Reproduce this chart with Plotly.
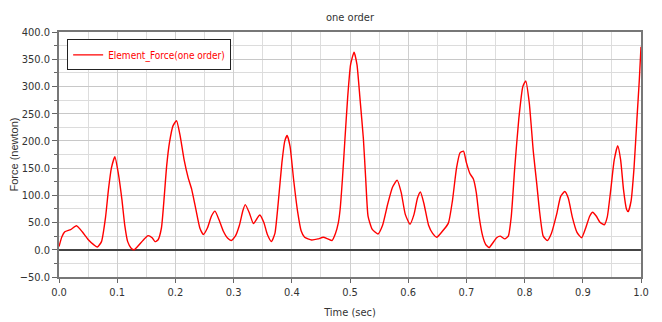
import plotly.graph_objects as go

time_s = [0.0, 0.005, 0.01, 0.02, 0.03, 0.04, 0.05, 0.06, 0.066, 0.073, 0.08, 0.085, 0.09, 0.096,
          0.102, 0.108, 0.113, 0.118, 0.124, 0.129, 0.135, 0.145, 0.153, 0.16, 0.165, 0.17, 0.176,
          0.181, 0.185, 0.19, 0.196, 0.202, 0.208, 0.215, 0.222, 0.228, 0.235, 0.242, 0.248, 0.255,
          0.262, 0.268, 0.275, 0.282, 0.29, 0.296, 0.303, 0.31, 0.316, 0.32, 0.327, 0.334, 0.34,
          0.345, 0.352, 0.358, 0.365, 0.371, 0.377, 0.383, 0.388, 0.392, 0.397, 0.403, 0.41, 0.416,
          0.422, 0.434, 0.445, 0.454, 0.462, 0.469, 0.475, 0.48, 0.483, 0.487, 0.491, 0.496, 0.501,
          0.507, 0.512, 0.517, 0.523, 0.527, 0.531, 0.538, 0.548, 0.556, 0.565, 0.573, 0.581, 0.588,
          0.595, 0.603, 0.61, 0.616, 0.621, 0.627, 0.635, 0.642, 0.649, 0.658, 0.669, 0.676, 0.683,
          0.689, 0.695, 0.7, 0.706, 0.712, 0.717, 0.722, 0.728, 0.733, 0.739, 0.745, 0.752, 0.758,
          0.766, 0.772, 0.777, 0.783, 0.79, 0.797, 0.802, 0.808, 0.815, 0.821, 0.826, 0.832, 0.839,
          0.846, 0.855, 0.862, 0.869, 0.875, 0.882, 0.89, 0.898, 0.905, 0.912, 0.917, 0.923, 0.93,
          0.937, 0.942, 0.948, 0.954, 0.96, 0.965, 0.97, 0.975, 0.978, 0.983, 0.988, 0.993, 0.997, 1.0]
force_n = [6, 24, 33, 37, 44, 33, 19, 9, 5, 15, 60, 111, 150, 171,
           140, 93, 45, 15, 3, 0, 6, 18, 26, 22, 15, 18, 40,
           100, 154, 198, 228, 237, 210, 165, 132, 111, 75, 40, 28, 40,
           62, 71, 55, 35, 21, 17, 25, 45, 72, 83, 68, 48, 57,
           64, 50, 28, 15, 30, 90, 160, 200, 210, 190, 130, 70, 35,
           23, 18, 20, 23, 20, 17, 30, 50, 74, 130, 198, 280, 340,
           363, 340, 280, 204, 130, 62, 38, 29, 45, 85, 115, 128, 105,
           65, 47, 65, 95, 106, 85, 45, 30, 23, 33, 49, 90, 150,
           178, 181, 160, 140, 130, 105, 60, 25, 10, 4, 12, 22, 25,
           20, 25, 60, 150, 240, 300, 310, 270, 180, 120, 68, 25, 17,
           30, 65, 98, 107, 95, 60, 32, 22, 40, 62, 69, 62, 50,
           46, 60, 110, 165, 191, 165, 110, 75, 70, 90, 150, 240, 310, 373]

series_name = "Element_Force(one order)"
chart_title = "one order"
x_title = "Time (sec)"
y_title = "Force (newton)"

NARROW = "DejaVu Sans Condensed, Liberation Sans Narrow, Arial Narrow, sans-serif"

# page body has an 8px default margin, so the figure is offset by (8, 8)
W, H = 654, 314

fig = go.Figure()
fig.add_trace(go.Scatter(
    x=time_s, y=force_n, mode="lines", name=series_name,
    line=dict(color="#ff0000", width=1.4, shape="spline", smoothing=0.5),
))

fig.update_layout(
    width=W, height=H,
    margin=dict(l=51, r=21, t=24, b=45, autoexpand=False),
    paper_bgcolor="white", plot_bgcolor="white",
    title=dict(text=chart_title, xref="paper", x=0.5, xanchor="center",
               yref="container", y=1 - 9 / H, yanchor="middle",
               font=dict(family=NARROW, size=11, color="#333333")),
    showlegend=True,
    legend=dict(x=0.014, y=0.97, xanchor="left", yanchor="top",
                bgcolor="white", bordercolor="#222222", borderwidth=1,
                font=dict(family=NARROW, size=10, color="#ff0000"),
                itemwidth=30, tracegroupgap=0),
    xaxis=dict(
        range=[0, 1.0], dtick=0.1, tick0=0, tickformat=".1f",
        showgrid=True, gridcolor="#cfcfcf", gridwidth=1,
        minor=dict(dtick=0.05, showgrid=True, gridcolor="#dddddd", ticks=""),
        ticks="outside", ticklen=4, tickcolor="#666666",
        showline=True, linecolor="#777777", linewidth=1.5, mirror=True,
        zeroline=False, automargin=False,
        tickfont=dict(family=NARROW, size=11, color="#333333"),
        title=dict(text=x_title, standoff=10, font=dict(family=NARROW, size=11, color="#333333")),
    ),
    yaxis=dict(
        range=[-50, 400], dtick=50, tick0=0, tickformat=".1f",
        showgrid=True, gridcolor="#c8c8c8", gridwidth=1,
        minor=dict(dtick=25, showgrid=True, gridcolor="#dcdcdc", ticks="outside", ticklen=3, tickcolor="#666666"),
        ticks="outside", ticklen=5, tickcolor="#666666",
        showline=True, linecolor="#777777", linewidth=1.5, mirror=True,
        zeroline=True, zerolinecolor="#444444", zerolinewidth=1.5, automargin=False,
        tickfont=dict(family=NARROW, size=11, color="#333333"),
        title=dict(text=y_title, standoff=0, font=dict(family="Liberation Sans, Arial, sans-serif", size=11, color="#333333")),
    ),
)

fig.write_html("out.html")
